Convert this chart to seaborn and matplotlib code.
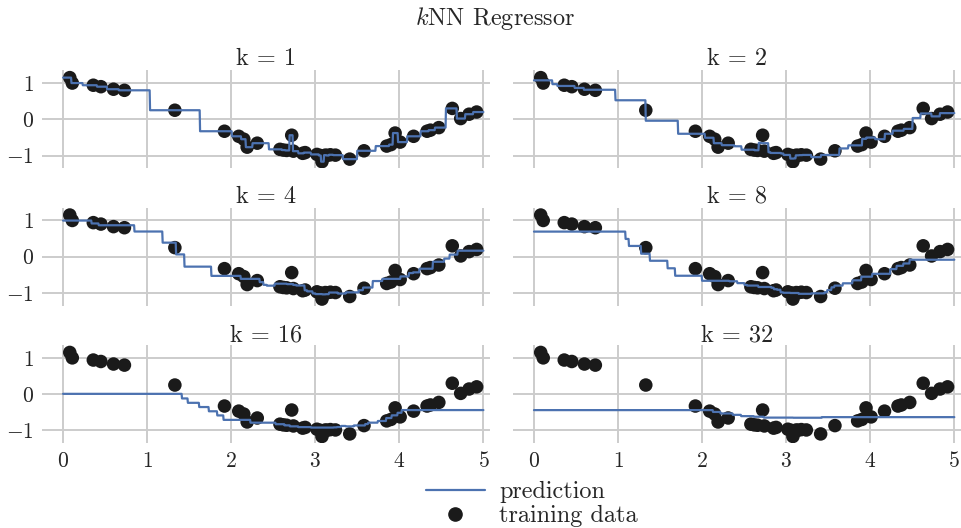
import numpy as np
import pandas as pd
import matplotlib
matplotlib.use("Agg")
import matplotlib.pyplot as plt
import seaborn as sns
from matplotlib.lines import Line2D

# training data
x_train = [0.08, 0.11, 0.36, 0.45, 0.60, 0.73, 1.33, 1.92, 2.09, 2.15,
           2.19, 2.31, 2.58, 2.62, 2.66, 2.72, 2.74, 2.85, 2.88, 3.02,
           3.06, 3.08, 3.12, 3.14, 3.18, 3.24, 3.41, 3.58, 3.85, 3.90,
           3.95, 4.01, 4.17, 4.33, 4.37, 4.47, 4.63, 4.73, 4.83, 4.92]
y_train = [1.15, 1.00, 0.94, 0.90, 0.83, 0.80, 0.25, -0.33, -0.47, -0.55,
           -0.77, -0.66, -0.83, -0.85, -0.86, -0.44, -0.88, -0.94, -0.92, -0.97,
           -1.00, -1.17, -0.99, -1.00, -0.98, -0.99, -1.10, -0.87, -0.74, -0.70,
           -0.38, -0.63, -0.47, -0.33, -0.30, -0.23, 0.30, 0.02, 0.14, 0.20]
k_values = [1, 2, 4, 8, 16, 32]
x_ticks = [0, 1, 2, 3, 4, 5]
y_ticks = [-1, 0, 1]

sns.set_theme(style="whitegrid")
plt.rcParams.update({
    "font.family": ["cmr10", "DejaVu Serif"],
    "mathtext.fontset": "cm",
    "axes.formatter.use_mathtext": True,
    "axes.unicode_minus": True,
    "grid.color": "#cccccc",
    "grid.linewidth": 1.4,
})

xt = np.asarray(x_train)
yt = np.asarray(y_train)
grid = np.linspace(0, 5, 1001)


def knn_predict(k):
    d = np.abs(grid[:, None] - xt[None, :])
    idx = np.argsort(d, axis=1, kind="stable")[:, :k]
    return yt[idx].mean(axis=1)


fig, axes = plt.subplots(3, 2, figsize=(9.62, 5.28), dpi=100, sharex=True, sharey=True)
fig.subplots_adjust(left=0.0437, right=0.999, top=0.8667, bottom=0.161,
                    wspace=0.051, hspace=0.405)

train_df = pd.DataFrame({"x": x_train, "y": y_train})
for ax, k in zip(axes.flat, k_values):
    pred_df = pd.DataFrame({"x": grid, "y": knn_predict(k)})
    sns.scatterplot(data=train_df, x="x", y="y", ax=ax, color="#1a1a1a", s=95,
                    edgecolor="none", zorder=2)
    sns.lineplot(data=pred_df, x="x", y="y", ax=ax, color="#4C72B0", lw=1.6,
                 zorder=3)
    ax.set_title(f"k = {k}", fontsize=17.5, pad=3)
    ax.set_xlabel("")
    ax.set_ylabel("")
    ax.set_xlim(-0.25, 5.08)
    ax.set_ylim(-1.35, 1.35)
    ax.set_xticks(x_ticks)
    ax.set_yticks(y_ticks)
    ax.tick_params(labelsize=15.5, length=0, pad=6)
    for s in ax.spines.values():
        s.set_visible(False)

fig.suptitle(r"$k$NN Regressor", fontsize=17.5, x=0.515, y=0.99)

handles = [Line2D([], [], color="#4C72B0", lw=1.6),
           Line2D([], [], color="#1a1a1a", marker="o", ls="", markersize=9.5)]
fig.legend(handles, ["prediction", "training data"], loc="lower center",
           bbox_to_anchor=(0.553, -0.04), frameon=False, fontsize=17.5,
           handlelength=2.4, labelspacing=0.08, handletextpad=0.6)

fig.savefig("out.png", dpi=100)
